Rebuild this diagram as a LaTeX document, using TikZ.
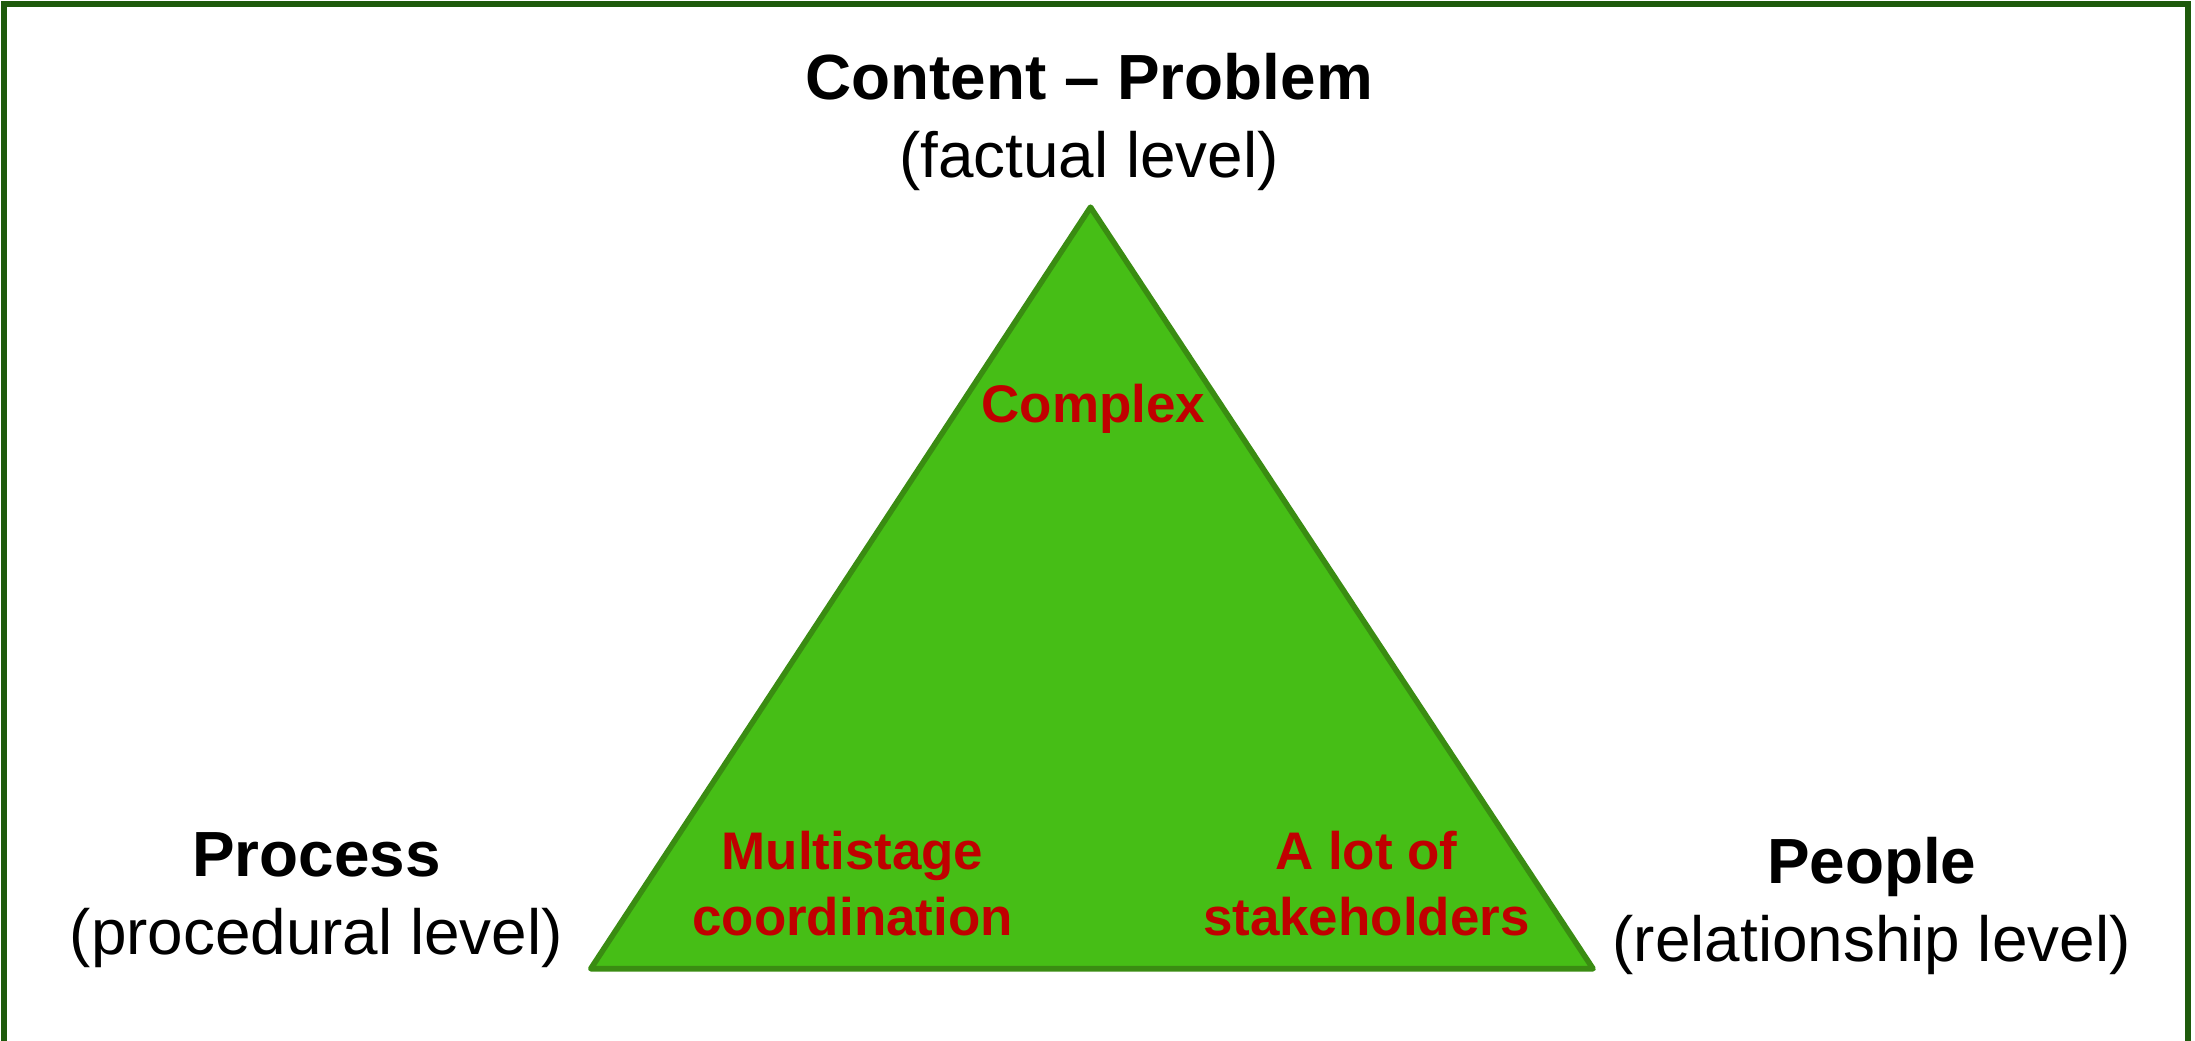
\documentclass[tikz,border=0pt]{standalone}
\usepackage{fontspec}
\setmainfont{Liberation Sans}
\definecolor{tgreen}{RGB}{70,190,22}
\definecolor{tedge}{RGB}{58,140,18}
\definecolor{frame}{RGB}{30,90,12}
\definecolor{tred}{RGB}{192,0,0}
\begin{document}
\begin{tikzpicture}[x=0.5pt,y=-0.5pt,
  blacklbl/.style={anchor=base,align=center,inner sep=0pt,font=\fontsize{22.8}{27.8}\selectfont},
  redlbl/.style={anchor=base,align=center,inner sep=0pt,text=tred,font=\fontsize{18.9}{23.5}\selectfont\bfseries}]
\useasboundingbox (0,0) rectangle (1568,743.6);
\draw[frame,line width=2.2pt] (3,3) rectangle (1563,770);
\coordinate (apex) at (779,148);
\coordinate (bl) at (422,692);
\coordinate (br) at (1138,692);
\draw[tedge,fill=tgreen,line width=2pt,line join=round] (apex) -- (br) -- (bl) -- cycle;
\node[blacklbl] (content) at (778,127) {\textbf{Content – Problem}\\(factual level)};
\node[blacklbl] (process) at (226,682) {\textbf{Process}\\(procedural level)};
\node[blacklbl] (people) at (1337,687) {\textbf{People}\\(relationship level)};
\node[redlbl] (complex) at (781,302) {Complex};
\node[redlbl] (multi) at (609,668) {Multistage\\coordination};
\node[redlbl] (lot) at (976,668) {A lot of\\stakeholders};
\end{tikzpicture}
\end{document}
